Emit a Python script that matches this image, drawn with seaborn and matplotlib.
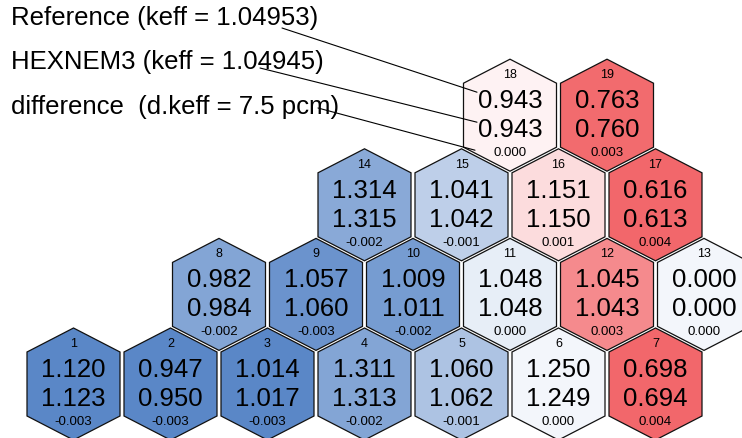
import numpy as np
import seaborn as sns
import matplotlib.pyplot as plt
from matplotlib.patches import Polygon
from matplotlib.colors import TwoSlopeNorm

# hexagon assembly map: reference vs HEXNEM3 values
hex_ids = list(range(1, 20))
hex_row = [0, 0, 0, 0, 0, 0, 0, 1, 1, 1, 1, 1, 1, 2, 2, 2, 2, 3, 3]
hex_col = [0, 1, 2, 3, 4, 5, 6, 1.5, 2.5, 3.5, 4.5, 5.5, 6.5, 3, 4, 5, 6, 4.5, 5.5]

ref_vals = [1.120, 0.947, 1.014, 1.311, 1.060, 1.250, 0.698,
            0.982, 1.057, 1.009, 1.048, 1.045, 0.000,
            1.314, 1.041, 1.151, 0.616,
            0.943, 0.763]
calc_vals = [1.123, 0.950, 1.017, 1.313, 1.062, 1.249, 0.694,
             0.984, 1.060, 1.011, 1.048, 1.043, 0.000,
             1.315, 1.042, 1.150, 0.613,
             0.943, 0.760]
# unrounded differences (estimated)
diff_vals = [-0.0030, -0.0030, -0.0030, -0.0021, -0.0014, -0.0002, 0.0040,
             -0.0021, -0.0025, -0.0023, -0.0004, 0.0027, -0.0002,
             -0.0020, -0.0011, 0.0008, 0.0038,
             0.0003, 0.0034]

legend_lines = ["Reference (keff = 1.04953)",
                "HEXNEM3 (keff = 1.04945)",
                "difference  (d.keff = 7.5 pcm)"]

sns.set_style("white")
plt.rcParams["font.family"] = ["Liberation Sans", "DejaVu Sans"]
plt.rcParams["text.color"] = "black"

fig = plt.figure(figsize=(7.42, 4.38), dpi=100)
ax = fig.add_axes([0, 0, 1, 1])
ax.set_xlim(0, 742)
ax.set_ylim(438, 0)
ax.axis("off")

cmap = sns.blend_palette(["#5a87c7", "#ffffff", "#f2676b"], as_cmap=True)
norm = TwoSlopeNorm(vmin=-0.0028, vcenter=0.0, vmax=0.0035)

# layout of the lattice in pixels
x0, dx = 73.5, 97.0
y0, dy = 384.0, 89.6
hw, hv, hh = 46.5, 32.0, 56.0
shape = np.array([[0, -hh], [hw, -hv], [hw, hv], [0, hh], [-hw, hv], [-hw, -hv]])

centers = {}
for i, hid in enumerate(hex_ids):
    cx = x0 + hex_col[i] * dx
    cy = y0 - hex_row[i] * dy
    centers[hid] = (cx, cy)
    poly = Polygon(shape + [cx, cy], closed=True,
                   facecolor=cmap(norm(np.clip(diff_vals[i], -0.0028, 0.0035))),
                   edgecolor="#111111", linewidth=0.9)
    ax.add_patch(poly)
    ax.text(cx, cy - 40, str(hid), ha="center", va="center", fontsize=9)
    ax.text(cx, cy - 14, f"{ref_vals[i]:.3f}", ha="center", va="center", fontsize=18.5)
    ax.text(cx, cy + 15, f"{calc_vals[i]:.3f}", ha="center", va="center", fontsize=18.5)
    d = round(diff_vals[i], 3) + 0.0
    ax.text(cx, cy + 38, f"{d:.3f}", ha="center", va="center", fontsize=9.5)

# legend text with leader lines to hexagon 18
for k, label in enumerate(legend_lines):
    ax.text(11, 18 + k * 44.5, label, ha="left", va="center", fontsize=18.5)

cx18, cy18 = centers[18]
starts = [(282, 28), (260, 68), (318, 108)]
ends = [(cx18 - 33, cy18 - 23), (cx18 - 33, cy18 + 7), (cx18 - 35, cy18 + 35)]
for (sx, sy), (ex, ey) in zip(starts, ends):
    ax.plot([sx, ex], [sy, ey], color="black", linewidth=0.8)

plt.savefig("out.png", dpi=100)
